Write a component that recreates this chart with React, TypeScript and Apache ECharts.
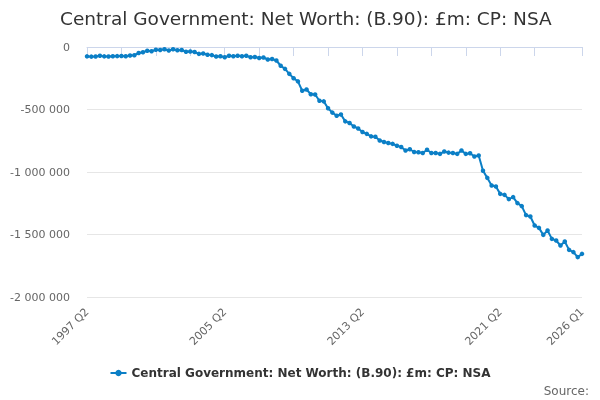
import React, { useEffect, useRef } from "react";
import * as echarts from "echarts";

const TITLE = "Central Government: Net Worth: (B.90): £m: CP: NSA";
const SERIES_NAME = "Central Government: Net Worth: (B.90): £m: CP: NSA";

const START_YEAR = 1997;
const START_QUARTER = 2;
const QUARTER_COUNT = 116;

const categories: string[] = [];
for (let i = 0; i < QUARTER_COUNT; i++) {
  const q = START_QUARTER - 1 + i;
  categories.push(`${START_YEAR + Math.floor(q / 4)} Q${(q % 4) + 1}`);
}

const netWorth = [
  -75000, -77000, -76000, -70000, -75000, -76000, -74000, -73000, -72000, -74000,
  -68000, -66000, -48000, -42000, -30000, -34000, -22000, -24000, -18000, -28000,
  -18000, -26000, -24000, -38000, -36000, -40000, -55000, -52000, -62000, -65000,
  -76000, -74000, -82000, -70000, -74000, -70000, -74000, -70000, -82000, -80000,
  -88000, -84000, -100000, -96000, -108000, -150000, -175000, -215000, -250000, -275000,
  -350000, -340000, -378000, -380000, -430000, -435000, -490000, -525000, -550000, -540000,
  -595000, -608000, -636000, -652000, -680000, -695000, -715000, -718000, -748000, -760000,
  -768000, -775000, -790000, -800000, -828000, -818000, -840000, -842000, -848000, -822000,
  -848000, -848000, -855000, -836000, -845000, -848000, -855000, -828000, -855000, -850000,
  -876000, -868000, -990000, -1047000, -1108000, -1116000, -1175000, -1183000, -1217000, -1201000,
  -1249000, -1273000, -1345000, -1356000, -1428000, -1447000, -1503000, -1468000, -1535000, -1548000,
  -1588000, -1556000, -1623000, -1641000, -1681000, -1655000,
];

const Y_MIN = -2000000;
const Y_MAX = 0;
const Y_STEP = 500000;

const FONT = "'DejaVu Sans', sans-serif";

function formatThousands(v: number): string {
  const s = Math.abs(v).toString().replace(/\B(?=(\d{3})+(?!\d))/g, " ");
  return (v < 0 ? "-" : "") + s;
}

export default function App() {
  const ref = useRef<HTMLDivElement>(null);
  useEffect(() => {
    if (!ref.current) return;
    const chart = echarts.init(ref.current, undefined, { renderer: "svg" });
    const last = categories.length - 1;
    chart.setOption({
      animation: false,
      textStyle: { fontFamily: FONT },
      title: {
        text: TITLE,
        left: 55,
        top: 4,
        textStyle: { fontSize: 18.5, fontWeight: "normal", color: "#333333", fontFamily: FONT },
      },
      grid: { left: 87, right: 18, top: 47, bottom: 103, containLabel: false },
      xAxis: {
        type: "category",
        data: categories,
        boundaryGap: false,
        axisLine: { show: true, lineStyle: { color: "#ccd6eb", width: 1 } },
        axisTick: {
          show: true,
          length: 9,
          lineStyle: { color: "#ccd6eb" },
          interval: (index: number) => (index % 8 === 0 && index !== 112) || index === last,
        },
        axisLabel: {
          rotate: 45,
          fontSize: 11,
          color: "#666666",
          fontFamily: FONT,
          margin: 13,
          interval: (index: number) => index % 32 === 0 || index === last,
        },
        splitLine: { show: false },
      },
      yAxis: {
        type: "value",
        min: Y_MIN,
        max: Y_MAX,
        interval: Y_STEP,
        axisLine: { show: false },
        axisTick: { show: false },
        axisLabel: {
          fontSize: 11,
          color: "#666666",
          fontFamily: FONT,
          margin: 17,
          formatter: (v: number) => formatThousands(v),
        },
        splitLine: { show: true, lineStyle: { color: "#e6e6e6", width: 1 } },
      },
      legend: {
        bottom: 16,
        left: "center",
        itemWidth: 16,
        itemHeight: 8,
        itemGap: 10,
        textStyle: { fontSize: 12, fontWeight: "bold", color: "#333333", fontFamily: FONT },
        data: [SERIES_NAME],
      },
      graphic: [
        {
          type: "text",
          right: 11,
          bottom: 3,
          style: { text: "Source:", fontSize: 12, fill: "#666666", fontFamily: FONT },
        },
      ],
      series: [
        {
          name: SERIES_NAME,
          type: "line",
          data: netWorth,
          symbol: "circle",
          symbolSize: 4.5,
          showSymbol: true,
          showAllSymbol: true,
          lineStyle: { color: "#0b7fc6", width: 2 },
          itemStyle: { color: "#0b7fc6" },
        },
      ],
    });
    return () => chart.dispose();
  }, []);
  return (
    <div
      ref={ref}
      style={{ position: "fixed", left: 0, top: 0, width: 600, height: 400 }}
    />
  );
}
